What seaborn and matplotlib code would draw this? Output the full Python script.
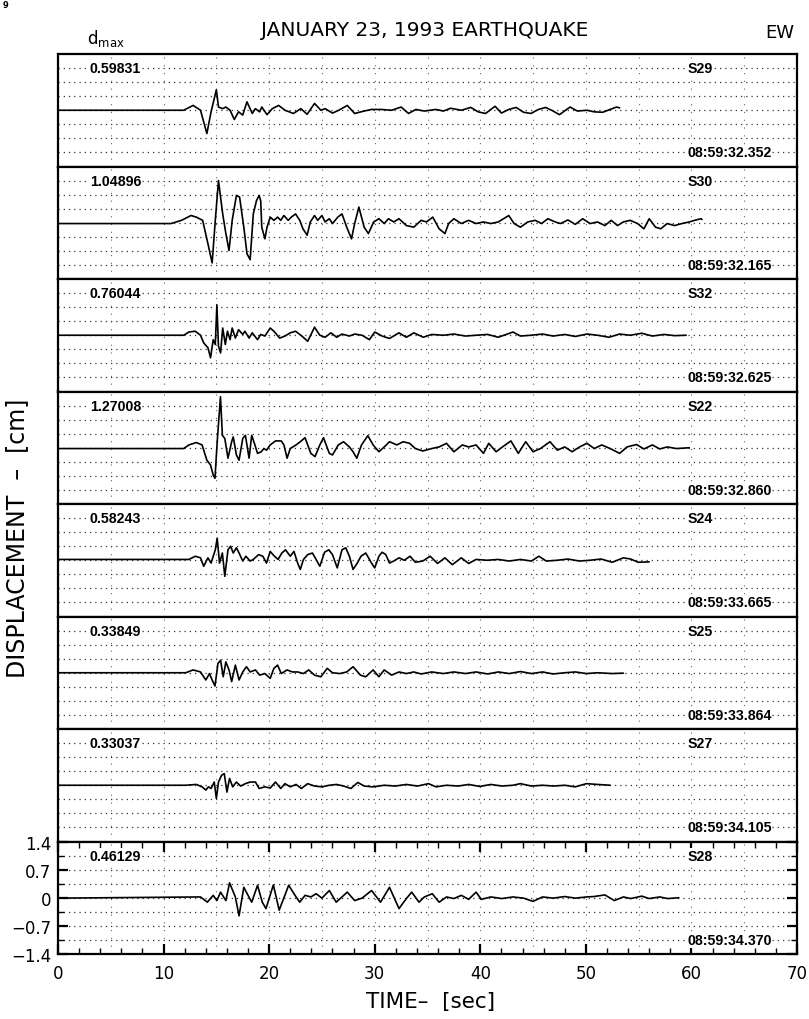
import numpy as np
import pandas as pd
import matplotlib
matplotlib.use("Agg")
import matplotlib.pyplot as plt
from matplotlib.ticker import MultipleLocator
import seaborn as sns

# ---------------- data (time [s], displacement [cm]) ----------------
S29 = [(0, 0), (11.9, 0), (12.8, 0.12), (13.5, 0), (14.1, -0.58), (14.5, -0.04), (15.0, 0.51), (15.2, 0.08),
       (15.6, 0.04), (15.9, 0.08), (16.3, 0), (16.7, -0.23), (17.1, -0.04), (17.5, -0.12), (17.9, 0.21),
       (18.4, -0.08), (18.7, 0.04), (19.1, -0.04), (19.3, 0.08), (19.8, -0.11), (20.3, 0.04), (20.9, 0.12),
       (21.5, 0), (22.3, -0.08), (23.0, 0.04), (23.6, -0.1), (24.3, 0.17), (24.9, 0), (25.3, 0.04), (26.0, -0.07),
       (26.6, 0), (27.4, 0.12), (28.1, -0.08), (29.0, -0.02), (29.7, 0.02), (30.6, 0.02), (31.6, 0), (32.5, 0.08),
       (33.2, -0.08), (33.9, 0.02), (34.7, -0.02), (35.8, 0.02), (36.5, -0.02), (37.2, 0.05), (38.2, 0),
       (39.1, 0.07), (39.8, -0.04), (40.5, -0.08), (41.4, 0.1), (42.0, -0.07), (42.7, 0.02), (43.4, 0.07),
       (44.1, -0.05), (44.8, -0.08), (45.5, 0.02), (46.2, 0.07), (46.9, -0.02), (47.5, -0.11), (48.5, 0.08),
       (49.2, -0.02), (50.1, 0), (50.8, -0.04), (51.6, -0.05), (52.3, 0.02), (52.9, 0.08), (53.2, 0.06)]

S30 = [(0, -0.02), (10.7, -0.02), (11.7, 0.06), (12.6, 0.18), (13.1, 0.14), (13.7, 0.06), (14.2, -0.52),
       (14.6, -1.0), (14.9, 0.06), (15.2, 1.05), (15.6, 0.22), (15.9, -0.27), (16.2, -0.69), (16.5, 0.06),
       (16.9, 0.68), (17.2, 0.64), (17.6, -0.11), (17.9, -0.77), (18.2, -0.92), (18.5, 0.22), (18.8, 0.55),
       (19.05, 0.68), (19.2, 0.55), (19.3, -0.11), (19.6, -0.4), (19.8, -0.11), (20.1, 0.14), (20.45, 0.06),
       (20.8, 0.14), (21.1, 0.06), (21.4, 0.18), (21.8, 0.06), (22.1, 0.14), (22.5, 0.22), (22.9, 0.06),
       (23.2, -0.15), (23.6, -0.31), (23.9, 0.02), (24.3, 0.18), (24.6, 0.06), (25.0, 0.18), (25.3, 0.02),
       (25.7, 0.1), (26.0, -0.02), (26.5, 0.14), (26.9, 0.22), (27.35, -0.11), (27.8, -0.4), (28.1, -0.02),
       (28.5, 0.39), (29.0, -0.11), (29.4, -0.27), (29.9, 0.02), (30.4, 0.1), (30.9, -0.02), (31.3, 0.1),
       (31.8, 0.02), (32.3, 0.1), (33.0, -0.07), (33.7, -0.11), (34.4, 0.06), (34.9, 0.02), (35.5, 0.14),
       (36.1, -0.15), (36.65, -0.27), (37.0, -0.02), (37.5, 0.1), (38.2, -0.02), (38.9, 0.06), (39.6, -0.02),
       (40.3, 0.02), (41.0, -0.02), (41.7, 0.02), (42.2, 0.1), (42.7, 0.18), (43.2, -0.02), (43.8, -0.11),
       (44.5, 0.02), (45.2, 0.06), (45.8, -0.02), (46.4, 0.1), (47.1, 0.02), (47.6, -0.02), (48.3, 0.07),
       (49.0, -0.04), (49.7, 0.1), (50.4, -0.02), (51.1, 0.02), (51.8, -0.07), (52.4, 0.06), (53.0, -0.07),
       (53.55, 0.02), (54.2, 0.06), (54.9, -0.02), (55.5, -0.15), (56.0, 0.1), (56.6, -0.11), (57.1, -0.15),
       (57.7, -0.02), (58.4, -0.07), (59.1, -0.02), (59.8, 0.02), (60.3, 0.06), (60.9, 0.1), (61.0, 0.08)]

S32 = [(0, 0), (11.9, 0), (12.4, 0.08), (13.0, 0.1), (13.5, 0), (13.8, -0.19), (14.2, -0.31), (14.45, -0.56),
       (14.7, -0.11), (14.9, -0.23), (15.05, 0.76), (15.2, -0.27), (15.4, -0.44), (15.6, 0.18), (15.85, -0.23),
       (16.05, 0.1), (16.3, -0.11), (16.5, 0.18), (16.8, -0.07), (17.1, 0.14), (17.5, 0.02), (17.7, 0.1),
       (18.1, -0.07), (18.4, 0.06), (18.9, -0.11), (19.2, 0.02), (19.6, -0.02), (20.1, 0.18), (20.45, 0.1),
       (21.0, -0.07), (21.5, -0.02), (22.0, 0.06), (22.5, 0.1), (23.1, -0.02), (23.65, -0.15), (24.3, 0.2),
       (24.8, 0), (25.3, -0.05), (25.85, 0.06), (26.4, -0.05), (26.9, 0.03), (27.6, -0.02), (28.1, 0.03),
       (28.8, 0), (29.5, -0.11), (30.0, 0.08), (30.7, -0.02), (31.4, -0.08), (32.3, 0.06), (33.0, -0.05),
       (33.7, 0.06), (34.6, -0.05), (35.4, 0.02), (36.5, 0), (37.5, 0.03), (38.6, -0.02), (39.6, 0),
       (40.7, 0.02), (41.7, -0.05), (43.1, 0.08), (43.8, -0.02), (44.8, 0), (45.9, 0.03), (46.9, -0.02),
       (48.0, 0.02), (49.0, -0.03), (50.1, 0.03), (51.1, 0), (52.2, -0.05), (53.2, 0.03), (54.2, 0),
       (55.3, 0.05), (56.3, -0.02), (57.4, 0.02), (58.4, -0.01), (59.5, 0)]

S22 = [(0, -0.02), (11.9, -0.02), (12.4, 0.07), (13.1, 0.13), (13.65, 0.07), (14.1, -0.31), (14.45, -0.43),
       (14.7, -0.68), (14.87, -0.76), (15.08, 0.15), (15.39, 1.27), (15.57, 0.31), (15.8, 0.23), (16.1, -0.26),
       (16.45, 0.15), (16.6, 0.27), (16.9, -0.18), (17.15, -0.31), (17.5, 0.23), (17.75, 0.31), (18.1, -0.26),
       (18.35, 0.31), (18.65, 0.07), (18.9, -0.14), (19.25, -0.1), (19.5, -0.02), (19.75, -0.06), (20.1, 0.07),
       (20.6, 0.17), (21.15, 0.17), (21.4, 0.07), (21.7, -0.26), (22.0, -0.02), (22.55, 0.07), (22.95, 0.15),
       (23.4, 0.25), (23.95, -0.14), (24.35, -0.22), (24.8, 0.07), (25.15, 0.25), (25.7, -0.14), (26.0, -0.18),
       (26.55, 0.07), (27.05, 0.15), (27.6, 0.02), (27.95, -0.1), (28.3, -0.26), (28.75, 0.07), (29.35, 0.3),
       (29.85, 0.07), (30.4, -0.1), (30.9, 0.02), (31.4, 0.15), (32.1, 0.07), (32.7, 0.15), (33.3, 0.11),
       (33.85, -0.02), (34.55, -0.08), (35.4, -0.02), (36.1, 0.02), (36.8, 0.11), (37.5, -0.1), (38.3, 0.07),
       (38.9, 0.02), (39.6, 0.07), (40.3, -0.14), (40.8, 0.11), (41.5, -0.1), (42.1, 0.02), (42.9, 0.17),
       (43.6, -0.14), (44.3, 0.15), (45.0, -0.1), (45.7, -0.02), (46.6, 0.15), (47.3, -0.06), (48.0, 0.02),
       (48.7, -0.1), (49.4, 0.02), (50.1, 0.11), (50.8, -0.02), (51.5, 0.07), (52.3, -0.02), (53.2, -0.14),
       (53.9, 0.02), (54.8, 0.08), (55.5, -0.03), (56.3, 0.07), (57.0, -0.03), (57.7, 0.02), (58.6, -0.02),
       (59.8, 0)]

S24 = [(0, 0.02), (12.4, 0.02), (13.0, 0.1), (13.5, 0.06), (13.8, -0.15), (14.2, 0.06), (14.5, -0.07),
       (14.9, 0.26), (15.08, 0.55), (15.3, -0.07), (15.57, 0.18), (15.8, -0.4), (16.1, 0.26), (16.35, 0.35),
       (16.6, 0.18), (16.9, 0.31), (17.15, 0.18), (17.5, -0.02), (17.8, 0.1), (18.2, -0.02), (18.5, 0.02),
       (19.0, 0.14), (19.4, 0.1), (19.75, -0.07), (20.1, 0.22), (20.5, 0.1), (20.85, 0.02), (21.2, 0.18),
       (21.55, 0.26), (22.0, 0.1), (22.35, 0.22), (22.7, -0.07), (22.95, -0.23), (23.25, 0.02), (23.65, 0.14),
       (24.1, 0.18), (24.45, 0.02), (24.8, -0.15), (25.25, 0.2), (25.65, 0.26), (26.0, 0.14), (26.45, -0.19),
       (26.9, 0.26), (27.25, 0.31), (27.6, 0.1), (27.95, -0.23), (28.35, -0.07), (28.7, 0.1), (29.15, 0.18),
       (29.7, -0.07), (30.0, -0.19), (30.4, 0.1), (30.7, 0.2), (31.05, 0.14), (31.4, -0.07), (31.8, -0.02),
       (32.3, 0.06), (32.8, 0), (33.35, 0.1), (33.85, -0.05), (34.55, -0.02), (35.25, 0.1), (35.95, -0.08),
       (36.65, 0.06), (37.35, -0.11), (38.2, 0.06), (38.9, -0.08), (39.6, 0.02), (40.65, 0), (41.7, 0.02),
       (42.75, -0.02), (43.8, 0.02), (44.85, -0.02), (45.55, 0.1), (46.25, -0.02), (47.3, 0), (48.3, 0.03),
       (49.4, -0.02), (50.4, 0), (51.45, 0.03), (52.5, -0.05), (53.55, 0.06), (54.25, 0.03), (54.95, -0.05),
       (56.0, -0.04)]

S25 = [(0, 0), (12.1, 0), (12.8, 0.07), (13.5, 0.02), (14.0, -0.18), (14.35, -0.02), (14.6, -0.18),
       (14.87, -0.33), (15.15, 0.23), (15.4, 0.31), (15.65, -0.1), (15.9, 0.27), (16.2, 0.07), (16.45, -0.22),
       (16.8, 0.19), (17.15, -0.18), (17.5, 0.02), (17.85, 0.15), (18.2, 0.02), (18.7, 0.07), (19.1, -0.06),
       (19.6, -0.02), (20.1, -0.14), (20.45, 0.11), (20.8, 0.19), (21.15, -0.02), (21.7, 0.07), (22.2, 0.02),
       (22.7, 0.02), (23.25, -0.02), (23.75, 0.07), (24.3, -0.06), (24.9, -0.1), (25.5, 0.11), (26.0, 0),
       (26.7, -0.02), (27.35, 0.02), (27.95, 0.15), (28.65, -0.06), (29.15, -0.1), (29.85, 0.07), (30.4, -0.1),
       (30.9, 0.07), (31.6, -0.06), (32.3, 0.02), (33.0, -0.02), (33.7, 0.02), (34.4, -0.03), (35.4, 0.02),
       (36.5, -0.02), (37.5, 0.02), (38.6, -0.02), (39.6, 0.02), (40.7, -0.03), (41.7, 0.02), (42.75, -0.02),
       (43.8, 0.03), (44.85, -0.02), (45.9, 0.02), (46.9, -0.03), (48.0, 0), (49.0, 0.02), (50.05, -0.02),
       (51.1, 0), (52.5, -0.02), (53.55, -0.01)]

S27 = [(0, 0), (12.1, 0), (13.1, 0.02), (13.65, -0.04), (14.0, -0.12), (14.25, -0.04), (14.5, -0.08),
       (14.8, 0.08), (15.0, -0.33), (15.2, 0.08), (15.5, 0.25), (15.75, 0.29), (16.0, -0.17), (16.25, 0.17),
       (16.55, -0.04), (16.9, 0.08), (17.3, -0.02), (17.75, 0.04), (18.2, 0.08), (18.7, 0.08), (19.05, -0.08),
       (19.6, -0.04), (20.1, -0.07), (20.6, 0.08), (21.1, -0.08), (21.5, 0.04), (22.0, -0.04), (22.55, 0.02),
       (23.05, -0.08), (23.65, 0.04), (24.3, -0.02), (25.0, -0.04), (25.7, 0), (26.4, 0.02), (27.05, -0.02),
       (27.75, -0.08), (28.4, 0.07), (29.0, -0.02), (29.85, -0.04), (30.9, 0), (31.95, -0.02), (33.0, 0.02),
       (34.05, -0.02), (35.1, 0.04), (35.8, -0.04), (36.8, 0), (37.9, -0.02), (38.9, 0.02), (39.95, -0.03),
       (41.0, 0.02), (42.05, -0.02), (43.1, 0), (43.8, 0.04), (44.85, -0.02), (45.9, 0), (46.95, -0.02),
       (48.0, 0), (49.0, -0.04), (50.05, 0.04), (51.1, 0.02), (52.3, 0)]

S28 = [(0, -0.01), (13.5, 0.02), (14.15, -0.11), (14.7, 0.06), (15.05, -0.07), (15.4, 0.14), (15.9, -0.07),
       (16.25, 0.37), (16.8, 0.02), (17.15, -0.45), (17.6, 0.26), (18.0, 0.06), (18.35, -0.11), (18.9, 0.31),
       (19.35, -0.11), (19.7, -0.27), (20.4, 0.32), (20.95, -0.31), (21.85, 0.31), (22.55, 0.02), (22.9, -0.11),
       (23.4, 0.06), (23.95, 0.02), (24.45, 0.1), (25.0, -0.01), (25.7, 0.18), (26.35, -0.11), (26.9, 0.02),
       (27.4, 0.14), (28.1, -0.07), (28.8, -0.01), (29.7, 0.18), (30.55, -0.11), (31.4, 0.26), (32.3, -0.27),
       (33.0, -0.02), (33.5, 0.14), (34.2, -0.11), (34.7, 0.02), (35.45, 0.1), (36.1, -0.11), (36.8, 0.02),
       (37.5, -0.02), (38.2, 0.06), (38.9, -0.04), (39.6, 0.14), (40.1, -0.04), (41.0, 0.02), (42.05, -0.02),
       (43.1, 0.02), (44.1, -0.01), (45.0, -0.09), (45.9, 0.02), (46.9, -0.01), (48.0, 0.03), (49.0, -0.01),
       (50.05, 0.02), (50.75, 0.03), (51.8, 0.07), (52.7, -0.07), (53.55, 0.02), (54.25, -0.02), (55.3, 0.04),
       (56.0, -0.02), (57.0, 0.02), (57.75, -0.02), (58.8, 0)]

STATIONS = ["S29", "S30", "S32", "S22", "S24", "S25", "S27", "S28"]
DMAX = ["0.59831", "1.04896", "0.76044", "1.27008", "0.58243", "0.33849", "0.33037", "0.46129"]
START_TIMES = ["08:59:32.352", "08:59:32.165", "08:59:32.625", "08:59:32.860",
               "08:59:33.665", "08:59:33.864", "08:59:34.105", "08:59:34.370"]
TRACES = [S29, S30, S32, S22, S24, S25, S27, S28]
X_TICKS = [0, 10, 20, 30, 40, 50, 60, 70]
Y_TICKS = [-1.4, -0.7, 0, 0.7, 1.4]
Y_TICK_LABELS = ["\u22121.4", "\u22120.7", "0", "0.7", "1.4"]

# ---------------- style ----------------
sns.set_theme(style="white")
plt.rcParams['font.family'] = ['DejaVu Sans']
plt.rcParams['mathtext.fontset'] = 'dejavusans'
plt.rcParams['text.color'] = 'black'
plt.rcParams['axes.labelcolor'] = 'black'
plt.rcParams['xtick.color'] = 'black'
plt.rcParams['ytick.color'] = 'black'

W, H = 809, 1020
fig = plt.figure(figsize=(W / 100, H / 100), dpi=100)
fig.patch.set_facecolor("white")

L, R = 58, 797
TOP, PH = 55, 112.5
lab_font = dict(fontsize=10.2, fontweight="bold", family="Liberation Sans", va="center", color="black",
                bbox=dict(facecolor="white", edgecolor="none", pad=0.5))

for i, (st, dm, t0, tr) in enumerate(zip(STATIONS, DMAX, START_TIMES, TRACES)):
    y_bot = TOP + PH * (i + 1)
    ax = fig.add_axes([L / W, 1 - y_bot / H, (R - L) / W, PH / H])
    ax.set_facecolor("white")
    for g in np.arange(-1.05, 1.06, 0.35):
        ax.axhline(g, color="0.2", lw=0.9, ls=(0, (1, 3.2)), zorder=0)
    for g in range(5, 70, 5):
        ax.axvline(g, color="0.4", lw=0.8, ls=(0, (1, 6)), zorder=0)
    df = pd.DataFrame(tr, columns=["time", "disp"])
    sns.lineplot(data=df, x="time", y="disp", ax=ax, color="black", lw=1.2,
                 sort=False, estimator=None, zorder=3)
    ax.set_xlim(0, 70)
    ax.set_ylim(-1.4, 1.4)
    ax.set_xlabel("")
    ax.set_ylabel("")
    for sp in ax.spines.values():
        sp.set_visible(True)
        sp.set_color("black")
        sp.set_linewidth(1.6)

    ax.text(3.0, 1.05, dm, ha="left", zorder=4, **lab_font)
    ax.text(59.6, 1.05, st, ha="left", zorder=4, **lab_font)
    ax.text(59.6, -1.05, t0, ha="left", zorder=4, **lab_font)

    if i < len(STATIONS) - 1:
        ax.set_xticks([])
        ax.set_yticks([])
    else:
        ax.set_xticks(X_TICKS)
        ax.set_xticklabels([str(v) for v in X_TICKS])
        ax.xaxis.set_minor_locator(MultipleLocator(2))
        ax.set_yticks(Y_TICKS)
        ax.set_yticklabels(Y_TICK_LABELS)
        ax.yaxis.set_minor_locator(MultipleLocator(0.35))
        ax.tick_params(which="both", direction="in", top=True, right=True, bottom=True, left=True,
                       color="black", labelcolor="black")
        ax.tick_params(which="major", length=7, width=1.6, labelsize=12)
        ax.tick_params(which="minor", length=4, width=1.0)
        ax.tick_params(axis="x", which="major", pad=7)
        ax.tick_params(axis="y", which="major", pad=5)

# ---------------- figure texts ----------------
fig.text(425 / W, 1 - 31 / H, "JANUARY 23, 1993 EARTHQUAKE", ha="center", va="center", fontsize=14.5)
fig.text(87 / W, 1 - 44 / H, r"d$_{\mathregular{max}}$", ha="left", va="baseline", fontsize=12)
fig.text(780 / W, 1 - 33 / H, "EW", ha="center", va="center", fontsize=13)
fig.text(431 / W, 1 - 1002 / H, "TIME\u2013  [sec]", ha="center", va="center", fontsize=15.5)
fig.text(17 / W, 1 - 538 / H, "DISPLACEMENT  \u2013  [cm]", ha="center", va="center",
         rotation=90, fontsize=17)
fig.text(3 / W, 1 - 6 / H, "9", ha="left", va="center", fontsize=6, fontweight="bold")

fig.savefig("out.png", dpi=100, facecolor="white")
